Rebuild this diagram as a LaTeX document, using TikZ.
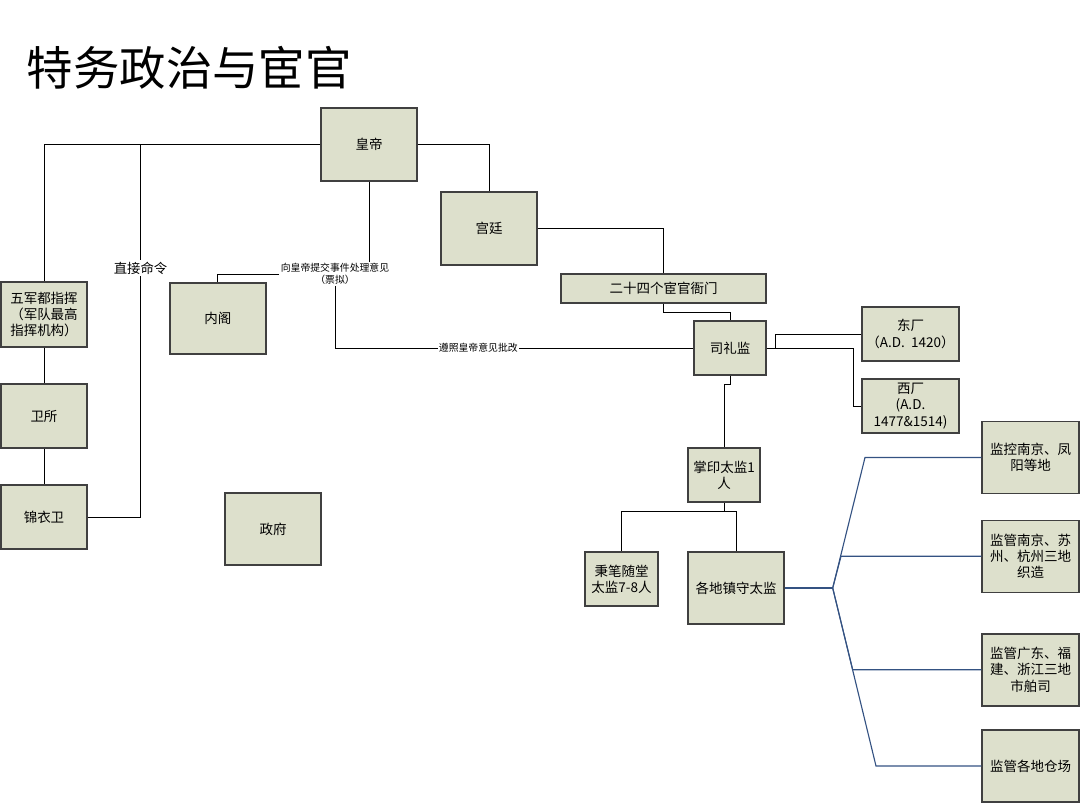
\documentclass[tikz,border=0pt]{standalone}
\usepackage{fontspec}
\setmainfont{Noto Sans CJK SC}
\usepackage{xcolor}
\usetikzlibrary{calc}
\definecolor{boxfill}{RGB}{221,224,204}
\definecolor{boxline}{RGB}{64,64,64}
\definecolor{fanblue}{RGB}{52,82,130}

\begin{document}
\begin{tikzpicture}[x=0.025cm, y=-0.025cm,
    box/.style={draw=boxline, fill=boxfill, line width=1pt, align=center, inner sep=1pt,
        font=\fontsize{9.6}{11.5}\selectfont},
    sz/.style 2 args={minimum width=#1*0.025cm, minimum height=#2*0.025cm},
    wire/.style={black, line width=0.7pt},
    fanline/.style={fanblue, line width=0.8pt},
    lbl/.style={fill=white, inner sep=1pt, align=center, font=\fontsize{7}{8.5}\selectfont}]
\useasboundingbox (0,0) rectangle (1080,810);

% Title
\node[anchor=west, font=\fontsize{33}{36}\selectfont] (title) at (22,68) {特务政治与宦官};

% Court side
\node[box, sz={96}{73}] (emperor) at (369,144.5) {皇帝};
\node[box, sz={96}{73}] (palace) at (489,228.5) {宫廷};
\node[box, sz={205}{29}] (yamen) at (663.5,288.5) {二十四个宦官衙门};
\node[box, sz={72}{54}] (sili) at (730,348) {司礼监};
\node[box, sz={97}{54}] (dongchang) at (910.5,334) {东厂\\（A.D.\ \ 1420）};
\node[box, sz={97}{54}] (xichang) at (910.5,406) {西厂\\(A.D.\\1477\&1514)};
\node[box, sz={72}{54}] (seal) at (724,475) {掌印太监1\\人};
\node[box, sz={73}{54}] (bingbi) at (621.5,579) {秉笔随堂\\太监7-8人};
\node[box, sz={96}{72}] (zhenshou) at (736,588) {各地镇守太监};

% Regional duties
\node[box, sz={97}{72}] (r1) at (1030.5,457.5) {监控南京、凤\\阳等地};
\node[box, sz={97}{72}] (r2) at (1030.5,556.3) {监管南京、苏\\州、杭州三地\\织造};
\node[box, sz={97}{72}] (r3) at (1030.5,669.8) {监管广东、福\\建、浙江三地\\市舶司};
\node[box, sz={97}{72}] (r4) at (1030.5,766) {监管各地仓场};

% Army and government
\node[box, sz={86}{65}] (army) at (44,314.5) {五军都指挥\\（军队最高\\指挥机构）};
\node[box, sz={86}{64}] (weisuo) at (44,416) {卫所};
\node[box, sz={86}{64}] (jinyiwei) at (44,517) {锦衣卫};
\node[box, sz={96}{71}] (cabinet) at (217.8,318.5) {内阁};
\node[box, sz={96}{72}] (govt) at (273,529) {政府};

% Piaoni label
\node[lbl] (piao) at (335,274) {向皇帝提交事件处理意见\\（票拟）};

% Connectors
\draw[wire] (emperor.west) -| (army.north);
\draw[wire] (army) -- (weisuo);
\draw[wire] (weisuo) -- (jinyiwei);
\coordinate (cmdtop) at (140.5,144.5);
\draw[wire] (jinyiwei.east) -| (cmdtop);
\node[lbl, font=\fontsize{9.5}{11}\selectfont] (cmd) at (140.5,268) {直接命令};

\draw[wire] (emperor.east) -| (palace.north);
\draw[wire] (palace.east) -| (yamen.north);
\draw[wire] (yamen.south) -- ++(0,9) -| (sili.north);
\draw[wire] (sili.east) -- ++(9,0) |- (dongchang.west);
\draw[wire] (sili.east) -- ++(87,0) |- (xichang.west);

\draw[wire] (emperor.south) -- (emperor.south |- piao.north);
\draw[wire] (piao.west) -| (cabinet.north);
\draw[wire] (sili.west) -| node[lbl, pos=0.3] (pizhu) {遵照皇帝意见批改} (piao.south);

\draw[wire] (sili.south) -- ++(0,9) -| (seal.north);
\draw[wire] (seal.south) -- ++(0,8.7) coordinate (fork);
\draw[wire] (fork) -| (bingbi.north);
\draw[wire] (fork) -| (zhenshou.north);

% Fan to regional duties
\coordinate (fan) at (832.7,588);
\draw[fanline] (zhenshou.east) -- (fan);
\foreach \b/\kx in {r1/865, r2/841, r3/852.7, r4/876}
    \draw[fanline] (fan) -- (\kx,0 |- \b.west) -- (\b.west);
\end{tikzpicture}
\end{document}
